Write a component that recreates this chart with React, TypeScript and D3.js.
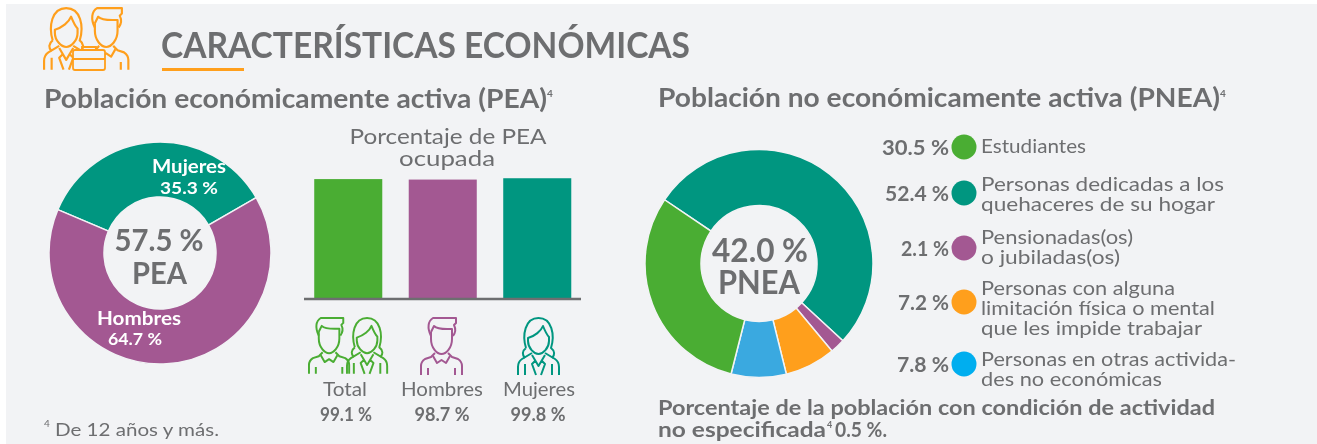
import React from "react";
import * as d3 from "d3";

const GREEN = "#4aad33";
const PURPLE = "#a35892";
const TEAL = "#009680";
const ORANGE = "#ff9f1c";
const BLUE = "#3aa9e0";
const LEGEND_BLUE = "#00aeef";
const GRAY = "#6d6e70";
const PANEL = "#f2f3f5";
const FONT = "Lato, 'Noto Sans', sans-serif";

// PEA donut
const peaNames = ["Mujeres", "Hombres"];
const peaValues = [35.3, 64.7];
const peaColors = [TEAL, PURPLE];

// PEA ocupada bars
const barNames = ["Total", "Hombres", "Mujeres"];
const barValues = [99.1, 98.7, 99.8];
const barLabels = ["99.1 %", "98.7 %", "99.8 %"];
const barColors = [GREEN, PURPLE, TEAL];

// PNEA donut, clockwise as drawn
const pneaValues = [52.4, 2.1, 7.2, 7.8, 30.5];
const pneaColors = [TEAL, PURPLE, ORANGE, BLUE, GREEN];

// PNEA legend, top to bottom
const legendValues = ["30.5 %", "52.4 %", "2.1 %", "7.2 %", "7.8 %"];
const legendColors = [GREEN, TEAL, PURPLE, ORANGE, LEGEND_BLUE];
const legendLines = [
  ["Estudiantes"],
  ["Personas dedicadas a los", "quehaceres de su hogar"],
  ["Pensionadas(os)", "o jubiladas(os)"],
  ["Personas con alguna", "limitación física o mental", "que les impide trabajar"],
  ["Personas en otras activida-", "des no económicas"],
];
// layout of the legend
const legendY = [147, 193, 248, 302, 364];
const legendValueW = [67, 64, 48, 51, 52];
const legendTextY = [153, 191, 244, 295, 366];
const legendLineW = [[105], [243, 234], [152, 139], [194, 234, 221], [255, 181]];

const deg = (d: number) => (d * Math.PI) / 180;

// text stretched to the width it has in the picture
const T = ({ x, y, w, size, bold, fill = GRAY, anchor = "start", children }: any) => (
  <text
    x={x}
    y={y}
    fontSize={size}
    fontWeight={bold ? 700 : 400}
    fill={fill}
    textAnchor={anchor}
    textLength={w}
    lengthAdjust={w ? "spacingAndGlyphs" : undefined}
  >
    {children}
  </text>
);

const Man = ({ x, y, color, k = 1 }: any) => (
  <g transform={`translate(${x},${y}) scale(${k})`} fill="none" stroke={color} strokeWidth={2} strokeLinejoin="round">
    <path d="M11 19 C7 11 8 4 13 1 H36 V6 L34 8 C36 12 36 15 33 19" />
    <path d="M11 15 V22 C11 31 17 37 21.5 37 C26 37 32 31 32 22 V12 C26 12 18 13 14 9 C13 11 12 13 11 15" />
    <path d="M15 36 L11 40 L5 42 C2 44 1 46 1 49 V58 M28 36 L32 40 L38 42 C41 44 42 46 42 49 V58" />
    <path d="M13 39 L17 46 L21.5 43 L26 46 L30 39 M8 51 V58 M35 51 V58" />
  </g>
);

const Woman = ({ x, y, color, k = 1 }: any) => (
  <g transform={`translate(${x},${y}) scale(${k})`} fill="none" stroke={color} strokeWidth={2} strokeLinejoin="round">
    <path d="M9 31 C5 18 8 1 21.5 1 C35 1 38 18 34 31 C38 34 38 38 35 41 M9 31 C5 34 5 38 8 41" />
    <path d="M11 21 C18 19 24 14 26 9 C28 14 30 18 32 20 V24 C32 31 26 37 21.5 37 C17 37 11 31 11 24 Z" />
    <path d="M15 36 L5 42 C2 44 1 46 1 50 V58 M28 36 L38 42 C41 44 42 46 42 50 V58" />
    <path d="M15 38 L21.5 49 L28 38 M18 44 L15 47 L19 58 M25 44 L28 47 L24 58 M8 47 V58 M35 47 V58" />
  </g>
);

export default function App() {
  // left donut
  const peaPie = d3.pie<number>().sort(null).startAngle(deg(-67)).endAngle(deg(293))(peaValues);
  const peaArc = d3.arc<d3.PieArcDatum<number>>().innerRadius(56).outerRadius(111);

  // right donut
  const pneaPie = d3.pie<number>().sort(null).startAngle(deg(-56)).endAngle(deg(304))(pneaValues);
  const pneaArc = d3.arc<d3.PieArcDatum<number>>().innerRadius(58).outerRadius(114);

  // bars
  const x = d3.scaleBand<string>().domain(barNames).range([301, 584.5]).paddingInner(0.28).paddingOuter(0.14);
  const y = d3.scaleLinear().domain([0, 100]).range([299, 178]);

  return (
    <svg
      width={1317}
      height={444}
      viewBox="0 0 1317 444"
      fontFamily={FONT}
      style={{ position: "fixed", left: 0, top: 0, filter: "blur(0.7px)" }}
    >
      <rect width={1317} height={444} fill="#fff" />
      <rect x={6} y={4} width={1311} height={440} fill={PANEL} />

      {/* header */}
      <Woman x={43} y={7} color={ORANGE} k={1.08} />
      <Man x={83} y={7} color={ORANGE} k={1.08} />
      <rect x={73} y={50} width={32} height={20} rx={2} fill={PANEL} stroke={ORANGE} strokeWidth={1.8} />
      <path d="M73 59 H105 M82 50 V47 H96 V50" fill="none" stroke={ORANGE} strokeWidth={1.8} />
      <T x={161} y={58} w={529} size={37} bold>CARACTERÍSTICAS ECONÓMICAS</T>
      <rect x={162} y={68} width={82} height={3} fill={ORANGE} />

      <T x={44} y={108} w={503} size={26} bold>Población económicamente activa (PEA)</T>
      <T x={547} y={97} size={10} bold>4</T>
      <T x={658} y={107} w={562} size={26} bold>Población no económicamente activa (PNEA)</T>
      <T x={1220} y={97} size={10} bold>4</T>

      {/* PEA donut */}
      <g transform="translate(160,253)">
        {peaPie.map((d, i) => (
          <path key={peaNames[i]} d={peaArc(d) ?? ""} fill={peaColors[i]} stroke={PANEL} strokeWidth={1.5} />
        ))}
      </g>
      <T x={189} y={173} w={74} size={18} bold fill="#fff" anchor="middle">Mujeres</T>
      <T x={189} y={194} w={58} size={17} bold fill="#fff" anchor="middle">35.3 %</T>
      <T x={139} y={325} w={84} size={18} bold fill="#fff" anchor="middle">Hombres</T>
      <T x={135} y={345} w={54} size={17} bold fill="#fff" anchor="middle">64.7 %</T>
      <T x={159} y={251} w={89} size={31} bold anchor="middle">57.5 %</T>
      <T x={159.5} y={284} w={55} size={31} bold anchor="middle">PEA</T>

      {/* PEA ocupada */}
      <T x={448} y={144} w={197} size={22} anchor="middle">Porcentaje de PEA</T>
      <T x={447} y={166} w={96} size={22} anchor="middle">ocupada</T>
      {barNames.map((n, i) => (
        <rect key={n} x={x(n)} y={y(barValues[i])} width={x.bandwidth()} height={299 - y(barValues[i])} fill={barColors[i]} />
      ))}
      <line x1={304} x2={581} y1={299} y2={299} stroke={GRAY} strokeWidth={2.4} />

      <Man x={308} y={317} color={GREEN} k={0.98} />
      <Woman x={346} y={317} color={GREEN} k={0.98} />
      <Man x={420} y={317} color={PURPLE} />
      <Woman x={517} y={317} color={TEAL} />
      {barNames.map((n, i) => (
        <T key={n} x={[345, 442, 539][i]} y={396} w={[44, 82, 72][i]} size={20} anchor="middle">{n}</T>
      ))}
      {barLabels.map((l, i) => (
        <T key={l} x={[346, 442, 538][i]} y={421} w={[52, 55, 55][i]} size={19} bold anchor="middle">{l}</T>
      ))}

      <T x={44} y={427} size={10}>4</T>
      <T x={55} y={436} w={164} size={18}>De 12 años y más.</T>

      {/* PNEA donut */}
      <g transform="translate(759,263.5)">
        {pneaPie.map((d, i) => (
          <path key={i} d={pneaArc(d) ?? ""} fill={pneaColors[i]} stroke={PANEL} strokeWidth={1.5} />
        ))}
      </g>
      <T x={760} y={262} w={96} size={32} bold anchor="middle">42.0 %</T>
      <T x={759} y={294} w={82} size={32} bold anchor="middle">PNEA</T>

      {/* PNEA legend */}
      {legendValues.map((v, i) => (
        <g key={v}>
          <T x={949} y={legendY[i] + 8} w={legendValueW[i]} size={21} bold anchor="end">{v}</T>
          <circle cx={964} cy={legendY[i]} r={12.5} fill={legendColors[i]} />
          {legendLines[i].map((l, j) => (
            <T key={l} x={981} y={legendTextY[i] + j * 20} w={legendLineW[i][j]} size={19}>{l}</T>
          ))}
        </g>
      ))}

      <T x={658} y={415} w={557} size={20} bold>Porcentaje de la población con condición de actividad</T>
      <T x={658} y={437} w={168} size={20} bold>no especificada</T>
      <T x={827} y={428} size={9} bold>4</T>
      <T x={835} y={437} w={52} size={20} bold>0.5 %.</T>
    </svg>
  );
}
